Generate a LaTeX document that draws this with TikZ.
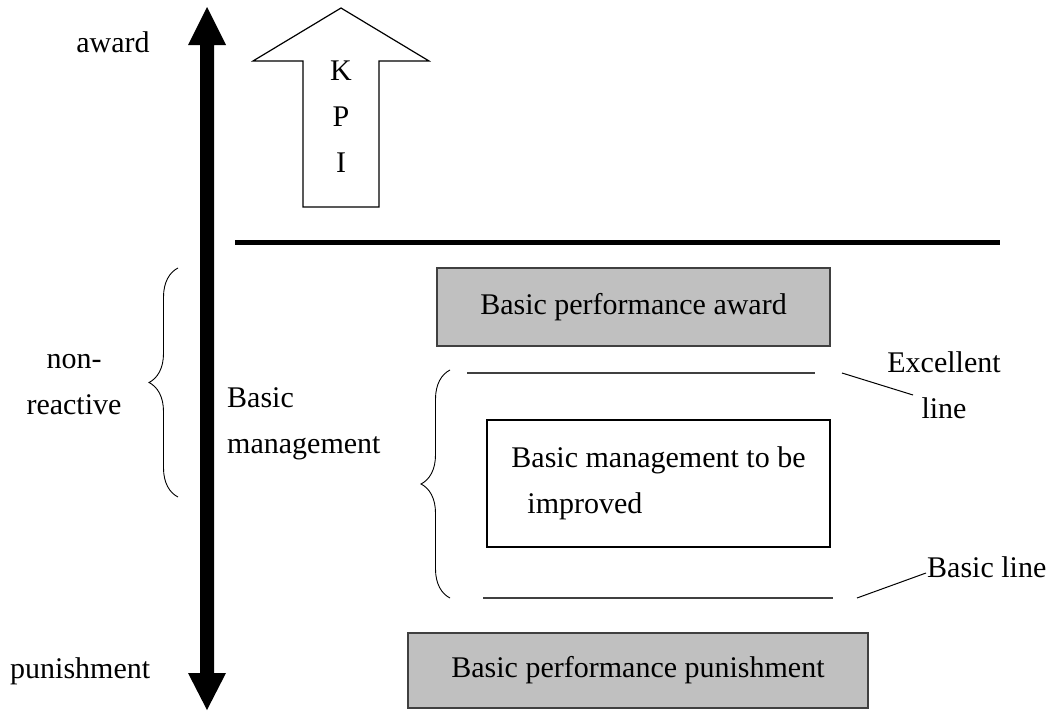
\documentclass[tikz,border=0pt]{standalone}
\usepackage{fontspec}
\setmainfont{Liberation Serif}
\usetikzlibrary{decorations.pathreplacing}
\definecolor{boxgray}{RGB}{192,192,192}
\definecolor{linegray}{RGB}{64,64,64}

\begin{document}
\begin{tikzpicture}[x=1pt,y=-1pt,
  txt/.style={inner sep=0pt,font=\fontsize{30}{46}\selectfont},
  graybox/.style={txt,draw=linegray,line width=1.2pt,fill=boxgray},
  curly/.style={decorate,decoration={brace,amplitude=29pt},line width=0.9pt}]
 \useasboundingbox (0,0) rectangle (1055,712);
 % award / punishment scale
 \fill (207,7)--(226,45)--(214,45)--(214,673)--(226,673)--(207,710)--(188,673)--(200,673)--(200,45)--(188,45)--cycle;
 \node[txt,anchor=base] (award) at (113,52) {award};
 \node[txt,anchor=base west] (punish) at (10,678) {punishment};
 % KPI arrow
 \draw[line width=1.2pt] (341,8)--(429,61)--(379,61)--(379,207)--(303,207)--(303,61)--(253,61)--cycle;
 \node[txt,align=center] (kpi) at (341,117) {K\\P\\I};
 % separating line
 \draw[line width=5pt] (235,242)--(1000,242);
 % left side
 \draw[curly] (178,497)--(178,268);
 \node[txt,align=center] (nonreact) at (74,385) {non-\\reactive};
 \node[txt,align=left,anchor=west] (basicmgmt) at (227,424) {Basic\\management};
 % boxes
 \node[graybox,minimum width=393,minimum height=78] (pawd) at (633.5,307) {Basic performance award};
 \node[txt,draw,line width=1.2pt,align=left,minimum width=343,minimum height=127] (improve) at (658.5,483.5)
   {Basic management to be\\\hspace*{16pt}improved};
 \node[graybox,minimum width=460,minimum height=75] (ppun) at (638,670.5) {Basic performance punishment};
 % excellent / basic lines
 \draw[curly] (450,598)--(450,370);
 \draw[linegray,line width=1.6pt] (467,373)--(815,373);
 \draw[linegray,line width=1.6pt] (483,598)--(833,598);
 \node[txt,align=center] (excl) at (944,385) {Excellent\\line};
 \node[txt,anchor=base west] (basl) at (927,577) {Basic line};
 \coordinate (exA) at (842,373);
 \coordinate (exB) at (913,395);
 \coordinate (blA) at (857,598);
 \coordinate (blB) at (926,573);
 \draw[line width=1pt] (exA)--(exB);
 \draw[line width=1pt] (blA)--(blB);
\end{tikzpicture}
\end{document}
